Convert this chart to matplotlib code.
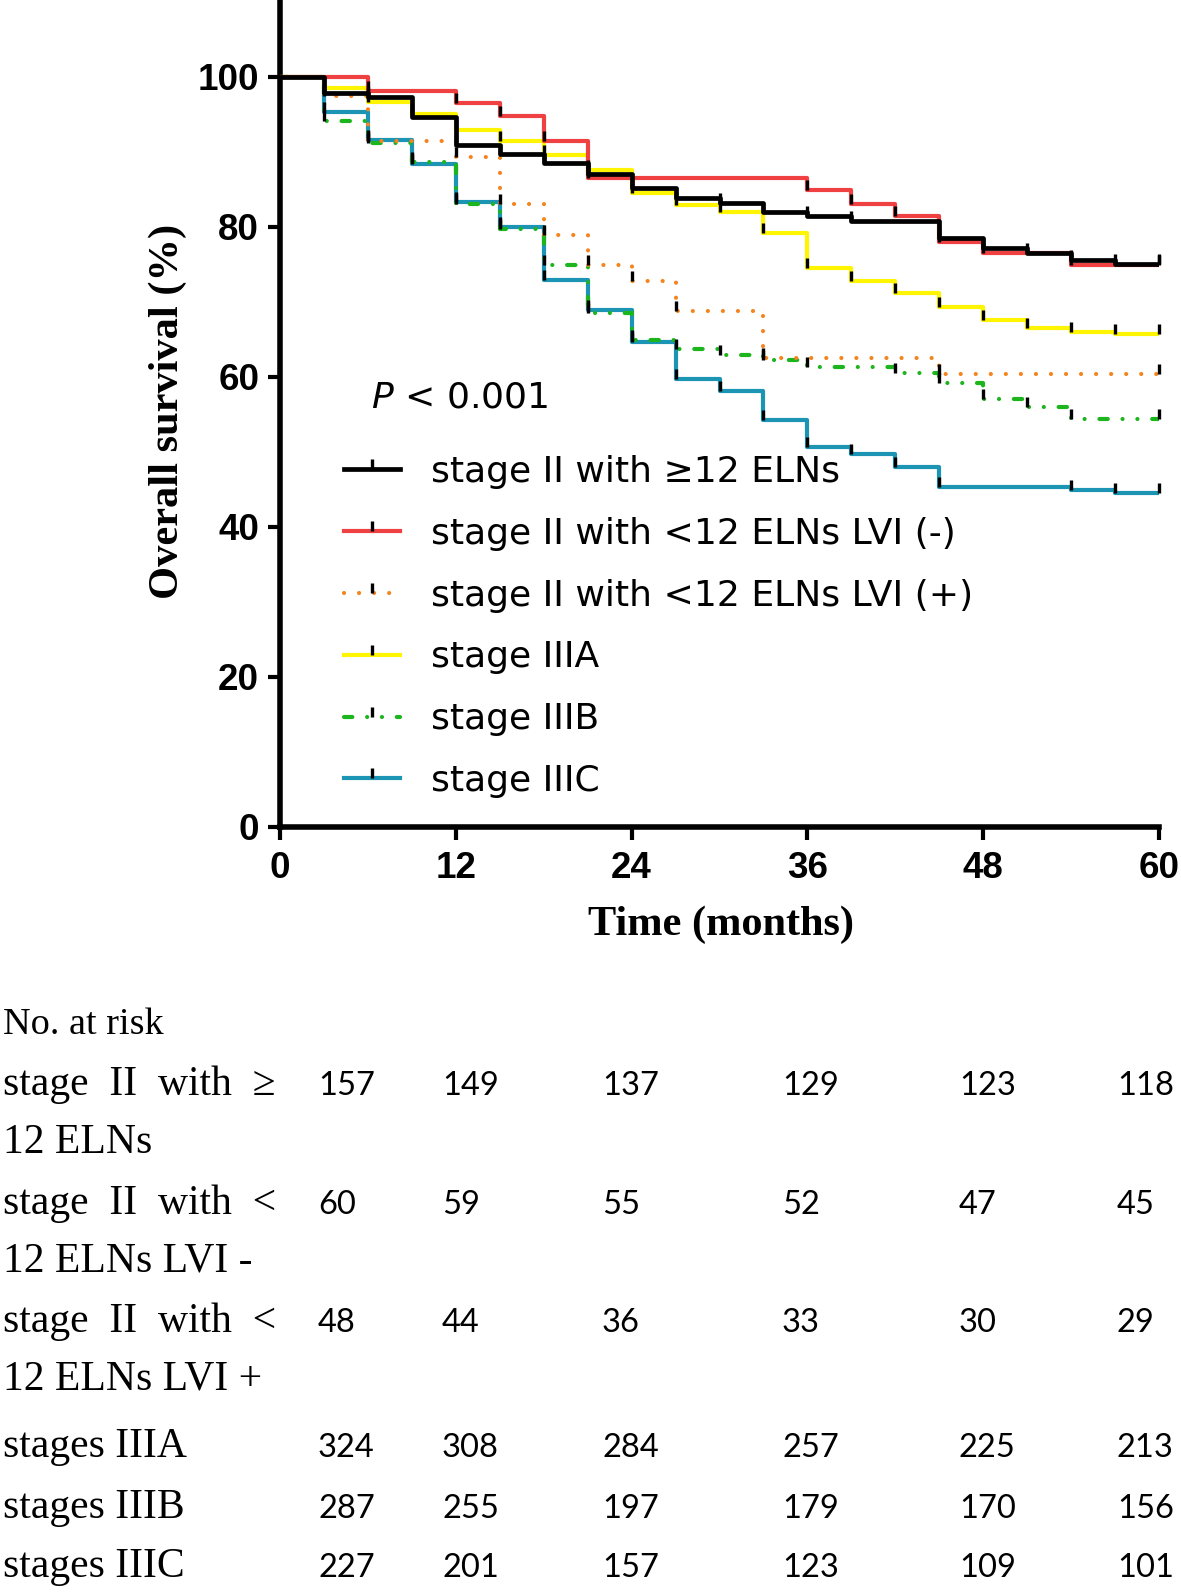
import numpy as np
import matplotlib
matplotlib.use('Agg')
import matplotlib.pyplot as plt
from matplotlib.lines import Line2D

plt.rcParams['font.family'] = ['Liberation Sans', 'DejaVu Sans']
plt.rcParams['mathtext.fontset'] = 'custom'
plt.rcParams['mathtext.it'] = 'DejaVu Sans:italic'
plt.rcParams['mathtext.rm'] = 'DejaVu Sans'

#- survival estimates (%) for each 3-month interval, 0-3 ... 57-60
months = np.arange(0, 61, 3)
surv_ge12 = [100, 97.9, 97.4, 94.7, 90.9, 89.7, 88.5, 87.1, 85.2, 83.9,
             83.2, 82.0, 81.5, 80.8, 80.8, 78.5, 77.2, 76.6, 75.6, 75.1]
surv_lt12_neg = [100, 100, 98.1, 98.1, 96.5, 94.8, 91.5, 86.6, 86.6, 86.6,
                 86.6, 86.6, 84.9, 83.1, 81.5, 78.0, 76.6, 76.6, 74.9, 74.9]
surv_lt12_pos = [100, 97.5, 91.5, 91.5, 89.4, 83.1, 79.0, 74.9, 72.8, 68.8,
                 68.8, 62.5, 62.5, 62.5, 62.5, 60.4, 60.4, 60.4, 60.4, 60.4]
surv_3a = [100, 98.5, 96.7, 95.1, 93.0, 91.5, 89.6, 87.6, 84.5, 83.0,
           82.0, 79.2, 74.6, 72.8, 71.2, 69.4, 67.6, 66.6, 66.0, 65.7]
surv_3b = [100, 94.2, 91.2, 88.7, 83.1, 79.7, 74.9, 68.6, 65.0, 63.7,
           63.0, 62.3, 61.4, 61.4, 60.6, 59.2, 57.1, 56.0, 54.4, 54.4]
surv_3c = [100, 95.4, 91.6, 88.4, 83.4, 80.0, 73.0, 69.0, 64.7, 59.7,
           58.1, 54.3, 50.7, 49.8, 48.0, 45.4, 45.4, 45.4, 45.0, 44.6]

legend_labels = ['stage II with \u226512 ELNs', 'stage II with <12 ELNs LVI (-)',
                 'stage II with <12 ELNs LVI (+)', 'stage IIIA', 'stage IIIB', 'stage IIIC']

#- number at risk table
risk_rows = [('stage  II  with  \u2265', '12 ELNs'),
             ('stage  II  with  <', '12 ELNs LVI -'),
             ('stage  II  with  <', '12 ELNs LVI +'),
             ('stages IIIA', None),
             ('stages IIIB', None),
             ('stages IIIC', None)]
risk_ge12 = [157, 149, 137, 129, 123, 118]
risk_lt12_neg = [60, 59, 55, 52, 47, 45]
risk_lt12_pos = [48, 44, 36, 33, 30, 29]
risk_3a = [324, 308, 284, 257, 225, 213]
risk_3b = [287, 255, 197, 179, 170, 156]
risk_3c = [227, 201, 157, 123, 109, 101]

W, H = 1181, 1592
def px(x, y):
    return x / W, 1 - y / H

fig = plt.figure(figsize=(W / 100, H / 100), dpi=100)
ax = fig.add_axes([280 / W, 1 - 827 / H, 879 / W, 825 / H])

up_tick = [(0, 0), (0, 1)]
styles = [
    (surv_ge12, dict(color='black', lw=3.4, zorder=6)),
    (surv_lt12_neg, dict(color='#EF4141', lw=3.0, zorder=5)),
    (surv_lt12_pos, dict(color='#F5841F', lw=3.0, ls=(0, (0.01, 3.6)),
                         dash_capstyle='round', zorder=3)),
    (surv_3a, dict(color='#FFF500', lw=3.0, zorder=4)),
    (surv_3b, dict(color='#1DB51D', lw=3.0, ls=(0, (2.0, 3.55, 0.01, 3.55, 0.01, 3.55)),
                   dash_capstyle='round', zorder=2)),
    (surv_3c, dict(color='#1C95B4', lw=3.0, zorder=1)),
]

handles = []
for vals, st in styles:
    v = np.asarray(vals, dtype=float)
    ax.step(months, np.append(v, v[-1]), where='post', **st)
    # censor ticks where the estimate changes, plus the end of follow-up
    changed = np.diff(v) != 0
    tc = np.append(months[1:-1][changed], months[-1])
    sc = np.append(v[1:][changed], v[-1])
    ax.plot(tc, sc, ls='none', marker=up_tick, ms=14, mew=2.4, color='black',
            zorder=7, clip_on=False)
    handles.append(Line2D([], [], marker=up_tick, ms=14, mew=2.4, mec='black',
                          mfc='black', **{k: val for k, val in st.items() if k != 'zorder'}))

ax.set_xlim(0, 60)
ax.set_ylim(0, 110)
ax.set_xticks([0, 12, 24, 36, 48, 60])
ax.set_yticks([0, 20, 40, 60, 80, 100])
for s in ['top', 'right']:
    ax.spines[s].set_visible(False)
for s in ['left', 'bottom']:
    ax.spines[s].set_linewidth(4)
ax.tick_params(length=9, width=3, labelsize=26.5)
ax.tick_params(axis='x', pad=8)
ax.tick_params(axis='y', pad=6)
for lab in ax.get_xticklabels() + ax.get_yticklabels():
    lab.set_fontweight('bold')

fig.text(*px(168, 411), 'Overall survival (%)', rotation=90, ha='center', va='center',
         family='Liberation Serif', fontweight='bold', fontsize=30.5)
fig.text(*px(721, 935), 'Time (months)', ha='center', va='baseline',
         family='Liberation Serif', fontweight='bold', fontsize=30.5)

fig.text(*px(371, 407), r'$P$ < 0.001', ha='left', va='baseline', fontsize=26,
         family=['DejaVu Sans'])

leg = ax.legend(handles, legend_labels, loc='upper left',
                bbox_to_anchor=px(344, 455), bbox_transform=fig.transFigure,
                frameon=False, handlelength=1.55, handletextpad=0.85,
                labelspacing=0.77, borderpad=0, borderaxespad=0, numpoints=1,
                prop={'family': 'DejaVu Sans', 'size': 26})

#- number at risk table
serif = dict(family='Liberation Serif', fontsize=30, va='baseline', ha='left')
fig.text(*px(3, 1034), 'No. at risk', family='Liberation Serif', fontsize=27.5,
         va='baseline', ha='left')
col_x = [318, 442, 602, 782, 959, 1117]
row_base = [1095, 1214, 1332, 1457, 1518, 1577]
risk_vals = [risk_ge12, risk_lt12_neg, risk_lt12_pos, risk_3a, risk_3b, risk_3c]
for (line1, line2), yb, vals in zip(risk_rows, row_base, risk_vals):
    fig.text(*px(3, yb), line1, **serif)
    if line2:
        fig.text(*px(3, yb + 58), line2, **serif)
    for xc, n in zip(col_x, vals):
        fig.text(*px(xc, yb), str(n), family='Lato', fontsize=23.5,
                 ha='left', va='baseline')

fig.savefig('out.png', dpi=100)
